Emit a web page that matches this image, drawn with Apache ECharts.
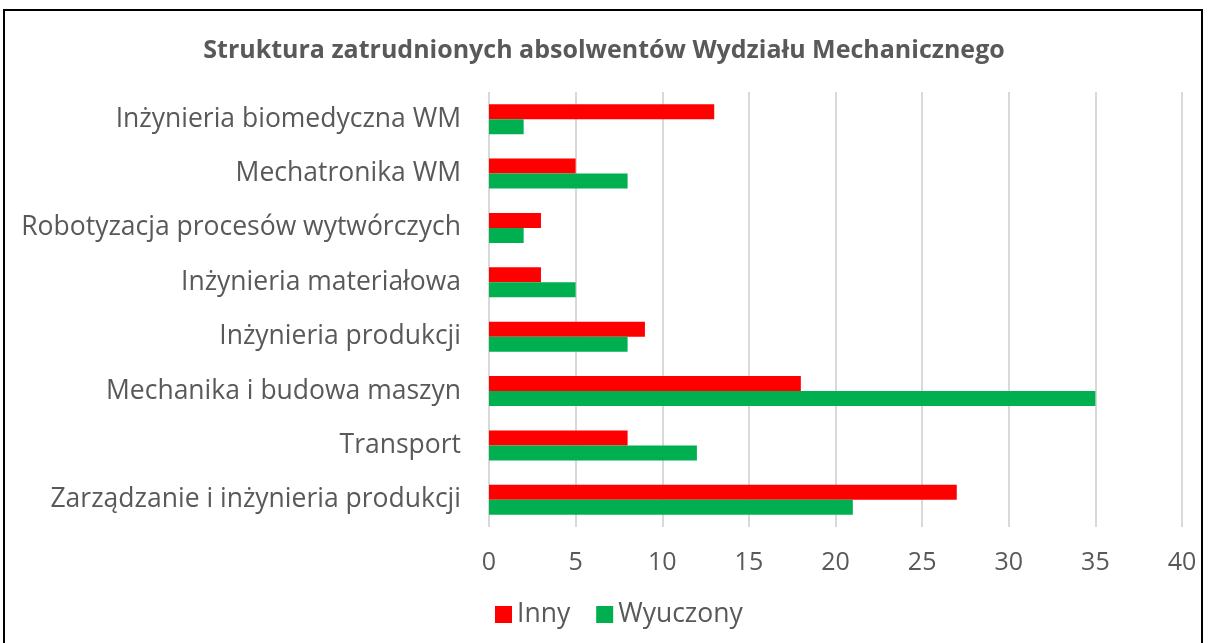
<!DOCTYPE html>
<html>
<head>
<meta charset="utf-8">
<script src="https://cdn.jsdelivr.net/npm/echarts@6/dist/echarts.min.js"></script>
<style>
  html, body { margin: 0; padding: 0; background: #fff; }
  #frame { position: absolute; left: 3px; top: 9px; width: 1200px; height: 640px; border: 2px solid #000; border-bottom: none; box-sizing: border-box; }
  #chart { position: absolute; left: 0; top: 0; width: 1208px; height: 643px; }
</style>
</head>
<body>
<div id="frame"></div>
<div id="chart"></div>
<script>
const categories = [
  'Inżynieria biomedyczna WM',
  'Mechatronika WM',
  'Robotyzacja procesów wytwórczych',
  'Inżynieria materiałowa',
  'Inżynieria produkcji',
  'Mechanika i budowa maszyn',
  'Transport',
  'Zarządzanie i inżynieria produkcji'
]
const inny = [13, 5, 3, 3, 9, 18, 8, 27]
const wyuczony = [2, 8, 2, 5, 8, 35, 12, 21]
const xTicks = { min: 0, max: 40, interval: 5 }

const chart = echarts.init(document.getElementById('chart'))
const textColor = '#595959'

chart.setOption({
  backgroundColor: 'transparent',
  animation: false,
  title: {
    text: 'Struktura zatrudnionych absolwentów Wydziału Mechanicznego',
    left: 'center',
    top: 33,
    textStyle: {
      fontFamily: 'Open Sans',
      fontSize: 25,
      fontWeight: 'bold',
      color: textColor
    }
  },
  legend: {
    top: 596,
    left: 490,
    itemWidth: 17,
    itemHeight: 17,
    itemGap: 26,
    icon: 'rect',
    textStyle: { fontFamily: 'Open Sans', fontSize: 26.5, color: textColor },
    data: ['Inny', 'Wyuczony']
  },
  grid: {
    left: 489,
    right: 26,
    top: 92,
    bottom: 116
  },
  xAxis: {
    type: 'value',
    min: xTicks.min,
    max: xTicks.max,
    interval: xTicks.interval,
    axisLine: { show: false },
    axisTick: { show: false },
    splitLine: { lineStyle: { color: '#D9D9D9', width: 2 } },
    axisLabel: { fontFamily: 'Open Sans', fontSize: 25, color: textColor, margin: 23 }
  },
  yAxis: {
    type: 'category',
    inverse: true,
    data: categories,
    axisLine: { show: false },
    axisTick: { show: false },
    axisLabel: { fontFamily: 'Open Sans', fontSize: 26.5, color: textColor, margin: 28 }
  },
  series: [
    {
      name: 'Inny',
      type: 'bar',
      data: inny,
      barWidth: 15,
      barGap: '0%',
      itemStyle: { color: '#FF0000' }
    },
    {
      name: 'Wyuczony',
      type: 'bar',
      data: wyuczony,
      barWidth: 15,
      barGap: '0%',
      itemStyle: { color: '#00B050' }
    }
  ]
})
</script>
</body>
</html>
